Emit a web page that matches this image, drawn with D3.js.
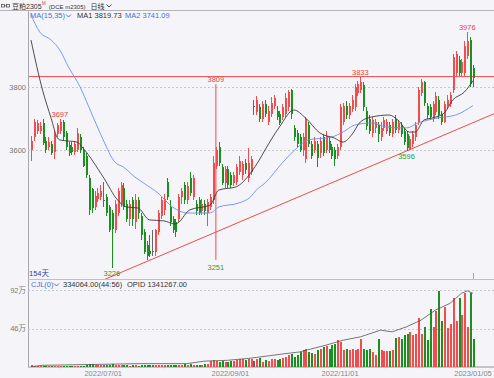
<!DOCTYPE html>
<html>
<head>
<meta charset="utf-8">
<script src="https://cdn.jsdelivr.net/npm/d3@7"></script>
<style>
html, body { margin: 0; padding: 0; background: #f5f5f9; }
svg { display: block; font-family: "Liberation Sans", Arial, "Noto Sans CJK SC", sans-serif; }
</style>
</head>
<body>
<script>
// daily candles, [open, high, low, close]
var ohlc = [
  [3600,3645,3565,3630],[3640,3700,3630,3690],[3660,3695,3650,3685],[3660,3690,3650,3675],[3685,3700,3615,3622],
  [3630,3640,3590,3600],[3610,3640,3600,3625],[3620,3630,3585,3590],[3595,3660,3570,3650],[3650,3685,3640,3680],
  [3660,3697,3650,3690],[3690,3695,3630,3640],[3655,3660,3600,3610],[3615,3625,3580,3590],[3610,3625,3585,3595],
  [3595,3630,3585,3620],[3600,3670,3595,3655],[3640,3650,3590,3600],[3600,3610,3545,3550],[3580,3590,3510,3520],
  [3510,3520,3395,3410],[3475,3480,3400,3415],[3420,3470,3410,3455],[3445,3480,3435,3465],[3450,3490,3440,3470],
  [3440,3500,3420,3440],[3450,3460,3390,3400],[3420,3425,3340,3345],[3400,3410,3226,3350],[3345,3440,3335,3430],
  [3400,3480,3390,3470],[3430,3500,3420,3490],[3480,3495,3410,3420],[3430,3440,3370,3380],[3380,3440,3360,3430],
  [3440,3450,3360,3380],[3370,3460,3350,3440],[3440,3450,3380,3400],[3390,3400,3315,3330],[3340,3350,3270,3275],
  [3300,3310,3250,3265],[3280,3330,3260,3270],[3280,3345,3262,3280],[3275,3350,3265,3345],[3340,3410,3330,3400],
  [3390,3450,3380,3440],[3410,3460,3395,3445],[3500,3510,3440,3450],[3420,3440,3360,3370],[3380,3390,3335,3345],
  [3370,3380,3325,3340],[3380,3460,3370,3450],[3450,3480,3430,3470],[3490,3500,3430,3440],[3440,3500,3430,3485],
  [3510,3530,3455,3465],[3450,3520,3440,3510],[3430,3440,3395,3405],[3440,3450,3395,3400],[3405,3445,3395,3430],
  [3430,3440,3395,3405],[3400,3445,3360,3435],[3420,3460,3410,3450],[3440,3580,3430,3560],[3550,3610,3540,3600],
  [3610,3625,3550,3560],[3545,3555,3490,3495],[3495,3550,3480,3540],[3540,3550,3480,3490],[3520,3530,3480,3490],
  [3495,3530,3485,3520],[3500,3555,3490,3545],[3530,3580,3520,3565],[3520,3565,3505,3555],[3560,3570,3525,3535],
  [3510,3605,3500,3560],[3530,3580,3520,3570],[3740,3760,3710,3740],[3720,3770,3710,3760],[3735,3745,3690,3700],
  [3700,3755,3690,3745],[3745,3760,3705,3715],[3690,3740,3680,3725],[3715,3768,3705,3750],[3740,3775,3730,3765],
  [3725,3740,3695,3705],[3715,3725,3680,3685],[3705,3745,3695,3735],[3715,3780,3705,3765],[3735,3790,3725,3785],
  [3790,3795,3700,3715],[3670,3680,3630,3640],[3655,3665,3610,3620],[3640,3650,3595,3600],[3600,3655,3580,3640],
  [3570,3705,3560,3700],[3680,3690,3610,3620],[3620,3630,3570,3580],[3600,3640,3590,3630],[3620,3630,3545,3575],
  [3590,3640,3575,3630],[3640,3650,3580,3590],[3600,3660,3590,3645],[3630,3640,3590,3600],[3610,3620,3570,3580],
  [3600,3610,3550,3570],[3580,3620,3570,3610],[3610,3745,3600,3735],[3690,3750,3680,3740],[3740,3755,3700,3710],
  [3710,3750,3700,3740],[3730,3775,3720,3760],[3735,3810,3725,3800],[3780,3820,3770,3810],[3790,3833,3780,3815],
  [3805,3815,3725,3735],[3725,3735,3665,3675],[3700,3710,3650,3660],[3655,3705,3640,3695],[3670,3700,3655,3690],
  [3680,3690,3625,3650],[3640,3690,3630,3670],[3670,3705,3660,3695],[3660,3700,3650,3690],[3680,3690,3645,3655],
  [3650,3700,3640,3690],[3700,3710,3655,3665],[3665,3695,3655,3685],[3680,3690,3640,3650],[3660,3670,3615,3625],
  [3650,3660,3596,3605],[3600,3645,3600,3635],[3620,3660,3610,3650],[3640,3690,3630,3680],[3690,3800,3680,3790],
  [3780,3825,3770,3815],[3815,3820,3740,3750],[3740,3750,3700,3710],[3735,3745,3695,3705],[3700,3755,3690,3745],
  [3720,3785,3710,3770],[3760,3770,3700,3710],[3715,3725,3680,3690],[3690,3755,3685,3745],[3740,3775,3730,3760],
  [3745,3785,3735,3775],[3790,3905,3780,3895],[3845,3915,3835,3905],[3885,3900,3835,3845],[3845,3890,3835,3880],
  [3845,3945,3835,3930],[3900,3976,3890,3945],[3950,3960,3800,3810],[3860,3870,3800,3828]
];

// volume, in 万 (10k lots)
var volume = [
  2,1.5,1,1,1.5,1,1,1,1.5,1,
  1.5,1,1,1,1,1.5,1,1,1.5,2,
  3.5,3,2,2,2,2.5,2,2.5,3,2.5,
  2,2,2.5,2,1.5,2,2,1.5,2,2,
  2,2.5,2,2,2,2.5,2,2,2,2.5,
  2,2.5,2,3,2.5,3,2,2.5,2,2.5,
  3,4,7,8,7,6,7,6,6,7,
  7,8,9,10,8,9,10,7,9,11,
  6,8,7,9,10,8,9,11,12,14,
  16,12,14,18,20,22,18,17,16,20,
  22,24,25,22,26,28,32,30,20,22,
  20,21,20,22,33,22,20,21,18,14,
  33,20,19,19,19,20,35,36,34,38,
  40,42,38,40,58,40,48,32,69,48,
  67,91,55,72,47,51,82,55,82,62,
  88,48,88,33.4
];

// moving averages, [candle index, value]
var ma1Pts = [[0,3949],[4,3790],[7,3700],[9,3641],[10,3632],[16,3625],[18,3606],[25,3514],[30,3441],[33,3419],
  [37,3416],[41,3378],[46,3375],[50,3365],[55,3410],[62,3425],[65,3473],[71,3483],[76,3527],[79,3568],[81,3600],
  [86,3673],[91,3727],[95,3702],[100,3654],[105,3638],[108,3625],[111,3648],[114,3689],[118,3705],[124,3711],
  [127,3695],[131,3657],[133,3657],[136,3695],[139,3702],[143,3717],[146,3759],[150,3784],[153,3820]];
var ma2Pts = [[0,4029],[3,3975],[7,3949],[10,3917],[13,3863],[17,3800],[20,3737],[23,3673],[25,3632],[29,3562],
  [32,3546],[36,3514],[39,3495],[44,3463],[49,3419],[54,3400],[62,3400],[65,3419],[72,3432],[76,3451],[78,3473],
  [81,3495],[87,3559],[92,3606],[96,3632],[104,3641],[108,3657],[112,3679],[118,3686],[123,3673],[130,3670],
  [134,3686],[141,3702],[147,3711],[153,3741]];

// open interest line, [candle index, 万]
var oiPts = [[0,0.5],[4,2],[38,4],[54,4],[60,7],[68,8],[76,10.5],[87,15.5],[93,18],[102,26],[108,32],[114,36],
  [121,44],[125,42],[130,48],[135,56],[140,68],[145,76],[147,82],[149,88],[151,91],[153,88]];

var tickIdx = [25, 69, 107, 153];
var tickLabels = ['2022/07/01', '2022/09/01', '2022/11/01', '2023/01/05'];
var priceTicks = [3800, 3600];
var volTicks = [92, 46];

var peakIdx = [10, 114, 151];
var troughIdx = [28, 130];
var resistance = 3833;
var rangeIdx = 64, rangeHi = 3809, rangeLo = 3251;
var trendIdx = [28, 130], trendVal = [3199, 3597];

var RED = '#f24c4c', GREEN = '#1a901e', DOJI = '#666';

// place a run of texts one after another on one baseline
var textRun = function (svg, x0, y0, parts) {
  var cx = x0;
  parts.forEach(function (p) {
    var t = svg.append('text').attr('x', cx + (p.gap || 0)).attr('y', y0 + (p.dy || 0))
      .attr('font-size', p.size).attr('fill', p.color).text(p.text);
    cx += (p.gap || 0) + t.node().getComputedTextLength();
  });
  return cx;
};

var loadChart = function () {
  const W = 494, H = 378;
  const LEFT = 28;
  var svg = d3.select('body').append('svg').attr('width', W).attr('height', H);

  var x = d3.scaleLinear().domain([0, 153]).range([31, 473]);
  var y = d3.scaleLinear().domain([3600, 3800]).range([150, 87]);
  var yv = d3.scaleLinear().domain([0, 92]).range([367, 290]);

  var col = function (d) { return d[3] > d[0] ? RED : (d[3] < d[0] ? GREEN : DOJI); };
  var px = function (i) { return Math.round(x(i)); };

  // frame
  svg.append('line').attr('x1', 0).attr('x2', W).attr('y1', 10.5).attr('y2', 10.5).attr('stroke', '#b4b4b8');
  svg.append('line').attr('x1', LEFT + 0.5).attr('x2', LEFT + 0.5).attr('y1', 11).attr('y2', 367).attr('stroke', '#a8a8ac');
  svg.append('line').attr('x1', LEFT).attr('x2', W).attr('y1', 279.5).attr('y2', 279.5).attr('stroke', '#c0c0c4');
  svg.append('line').attr('x1', LEFT).attr('x2', W).attr('y1', 367).attr('y2', 367).attr('stroke', '#b4b4b8').attr('stroke-width', 1.5);

  // title bar
  var ic = svg.append('g').attr('stroke', '#555').attr('fill', 'none').attr('stroke-width', 0.8);
  ic.append('rect').attr('x', 1.5).attr('y', 4.5).attr('width', 3).attr('height', 2.5);
  ic.append('rect').attr('x', 6.5).attr('y', 4.5).attr('width', 3).attr('height', 2.5);
  ic.append('line').attr('x1', 4.5).attr('x2', 6.5).attr('y1', 5.8).attr('y2', 5.8);
  var endX = textRun(svg, 12, 9, [
    { text: '豆粕', size: 7, color: '#333' },
    { text: '2305', size: 7, color: '#333' },
    { text: 'M', size: 4.5, color: '#e33', dy: -4, gap: 0.5 },
    { text: '(DCE m2305)', size: 6, color: '#333', gap: 3 },
    { text: '日线', size: 7, color: '#333', gap: 5 }
  ]);
  svg.append('path').attr('d', 'M' + (endX + 2) + ',4.5 l2.5,2.5 l2.5,-2.5').attr('stroke', '#444').attr('fill', 'none');

  // grid + price labels
  priceTicks.forEach(function (p) {
    svg.append('line').attr('x1', LEFT).attr('x2', W).attr('y1', Math.round(y(p)) + 0.5).attr('y2', Math.round(y(p)) + 0.5)
      .attr('stroke', '#c8c8cc').attr('stroke-dasharray', '2,2');
    svg.append('text').attr('x', 26).attr('y', y(p) + 2.5).attr('text-anchor', 'end')
      .attr('font-size', 7.5).attr('fill', '#777').text(p);
  });
  volTicks.forEach(function (v) {
    svg.append('line').attr('x1', LEFT).attr('x2', W).attr('y1', Math.round(yv(v)) + 0.5).attr('y2', Math.round(yv(v)) + 0.5)
      .attr('stroke', '#c8c8cc').attr('stroke-dasharray', '2,2');
    svg.append('text').attr('x', 26).attr('y', yv(v) + 2.5).attr('text-anchor', 'end')
      .attr('font-size', 7.5).attr('fill', '#777').text(v + '万');
  });

  // x labels
  tickIdx.forEach(function (t, k) {
    svg.append('text').attr('x', x(t)).attr('y', 375.5).attr('text-anchor', 'middle')
      .attr('font-size', 7.5).attr('fill', '#888').text(tickLabels[k]);
  });

  // main panel
  svg.append('clipPath').attr('id', 'mainClip').append('rect')
    .attr('x', LEFT + 1).attr('y', 11).attr('width', W - LEFT).attr('height', 268);
  var main = svg.append('g').attr('clip-path', 'url(#mainClip)');

  main.append('line').attr('x1', LEFT).attr('x2', W).attr('y1', y(resistance)).attr('y2', y(resistance))
    .attr('stroke', '#f04a4a').attr('stroke-width', 1);

  var trend = d3.scaleLinear().domain(trendIdx).range(trendVal);
  main.append('line').attr('x1', x(0)).attr('y1', y(trend(0))).attr('x2', x(170)).attr('y2', y(trend(170)))
    .attr('stroke', '#f04a4a').attr('stroke-width', 1);

  main.append('line').attr('x1', x(rangeIdx)).attr('x2', x(rangeIdx)).attr('y1', y(rangeHi)).attr('y2', y(rangeLo))
    .attr('stroke', '#f04a4a').attr('stroke-width', 1);

  var candles = main.append('g').attr('shape-rendering', 'crispEdges');
  candles.selectAll('.wick').data(ohlc).enter().append('line')
    .attr('x1', function (d, i) { return px(i) + 0.5; })
    .attr('x2', function (d, i) { return px(i) + 0.5; })
    .attr('y1', function (d) { return y(d[1]); })
    .attr('y2', function (d) { return y(d[2]); })
    .attr('stroke', col);
  candles.selectAll('.body').data(ohlc).enter().append('rect')
    .attr('x', function (d, i) { return px(i) - 0.5; })
    .attr('width', 2)
    .attr('y', function (d) { return y(Math.max(d[0], d[3])); })
    .attr('height', function (d) { return Math.max(1, Math.abs(y(d[0]) - y(d[3]))); })
    .attr('fill', col);

  var maLine = d3.line().x(function (d) { return x(d[0]); }).y(function (d) { return y(d[1]); }).curve(d3.curveMonotoneX);
  main.append('path').datum(ma2Pts).attr('d', maLine).attr('fill', 'none').attr('stroke', '#6d8ff0').attr('stroke-width', 0.9);
  main.append('path').datum(ma1Pts).attr('d', maLine).attr('fill', 'none').attr('stroke', '#3a3a3a').attr('stroke-width', 0.9);

  // high / low markers
  peakIdx.forEach(function (i) {
    main.append('text').attr('x', x(i)).attr('y', y(ohlc[i][1]) - 2).attr('text-anchor', 'middle')
      .attr('font-size', 7.5).attr('fill', '#ee4040').text(ohlc[i][1]);
  });
  troughIdx.forEach(function (i) {
    main.append('text').attr('x', x(i)).attr('y', y(ohlc[i][2]) + 8).attr('text-anchor', 'middle')
      .attr('font-size', 7.5).attr('fill', '#2e9a3a').text(ohlc[i][2]);
  });
  main.append('text').attr('x', x(rangeIdx)).attr('y', y(rangeHi) - 2).attr('text-anchor', 'middle')
    .attr('font-size', 7.5).attr('fill', '#ee4040').text(rangeHi);
  main.append('text').attr('x', x(rangeIdx)).attr('y', y(rangeLo) + 10).attr('text-anchor', 'middle')
    .attr('font-size', 7.5).attr('fill', '#2e9a3a').text(rangeLo);

  // legend
  svg.append('text').attr('x', 30).attr('y', 18).attr('font-size', 7.5).attr('fill', '#4a6ee0').text('MA(15,35)');
  svg.append('path').attr('d', 'M66,14.5 L68.5,17 L71,14.5').attr('stroke', '#4a6ee0').attr('fill', 'none');
  svg.append('text').attr('x', 77).attr('y', 18).attr('font-size', 7.5).attr('fill', '#333').text('MA1 3819.73');
  svg.append('text').attr('x', 125).attr('y', 18).attr('font-size', 7.5).attr('fill', '#4a6ee0').text('MA2 3741.09');
  svg.append('text').attr('x', 29).attr('y', 276).attr('font-size', 7.5).attr('fill', '#2b3a9c').text('154天');

  // volume panel
  svg.append('text').attr('x', 31).attr('y', 287).attr('font-size', 7.5).attr('fill', '#4a6ee0').text('CJL(0)');
  svg.append('path').attr('d', 'M54,283.5 L56.5,286 L59,283.5').attr('stroke', '#4a6ee0').attr('fill', 'none');
  svg.append('text').attr('x', 63).attr('y', 287).attr('font-size', 7.5).attr('fill', '#333').text('334064.00(44:56)');
  svg.append('text').attr('x', 127).attr('y', 287).attr('font-size', 7.5).attr('fill', '#333').text('OPID 1341267.00');

  var vol = svg.append('g').attr('shape-rendering', 'crispEdges');
  vol.selectAll('rect').data(volume).enter().append('rect')
    .attr('x', function (d, i) { return px(i) - 0.5; })
    .attr('width', 2)
    .attr('y', function (d) { return yv(d); })
    .attr('height', function (d) { return 367 - yv(d); })
    .attr('fill', function (d, i) { return col(ohlc[i]); });

  var oiLine = d3.line().x(function (d) { return x(d[0]); }).y(function (d) { return yv(d[1]); });
  svg.append('path').datum(oiPts).attr('d', oiLine).attr('fill', 'none').attr('stroke', '#555').attr('stroke-width', 0.8);

  // cursor tick at last bar
  svg.append('line').attr('x1', px(153) + 0.5).attr('x2', px(153) + 0.5).attr('y1', 273).attr('y2', 279)
    .attr('stroke', '#aaa');
};

window.onload = loadChart;
</script>
</body>
</html>
